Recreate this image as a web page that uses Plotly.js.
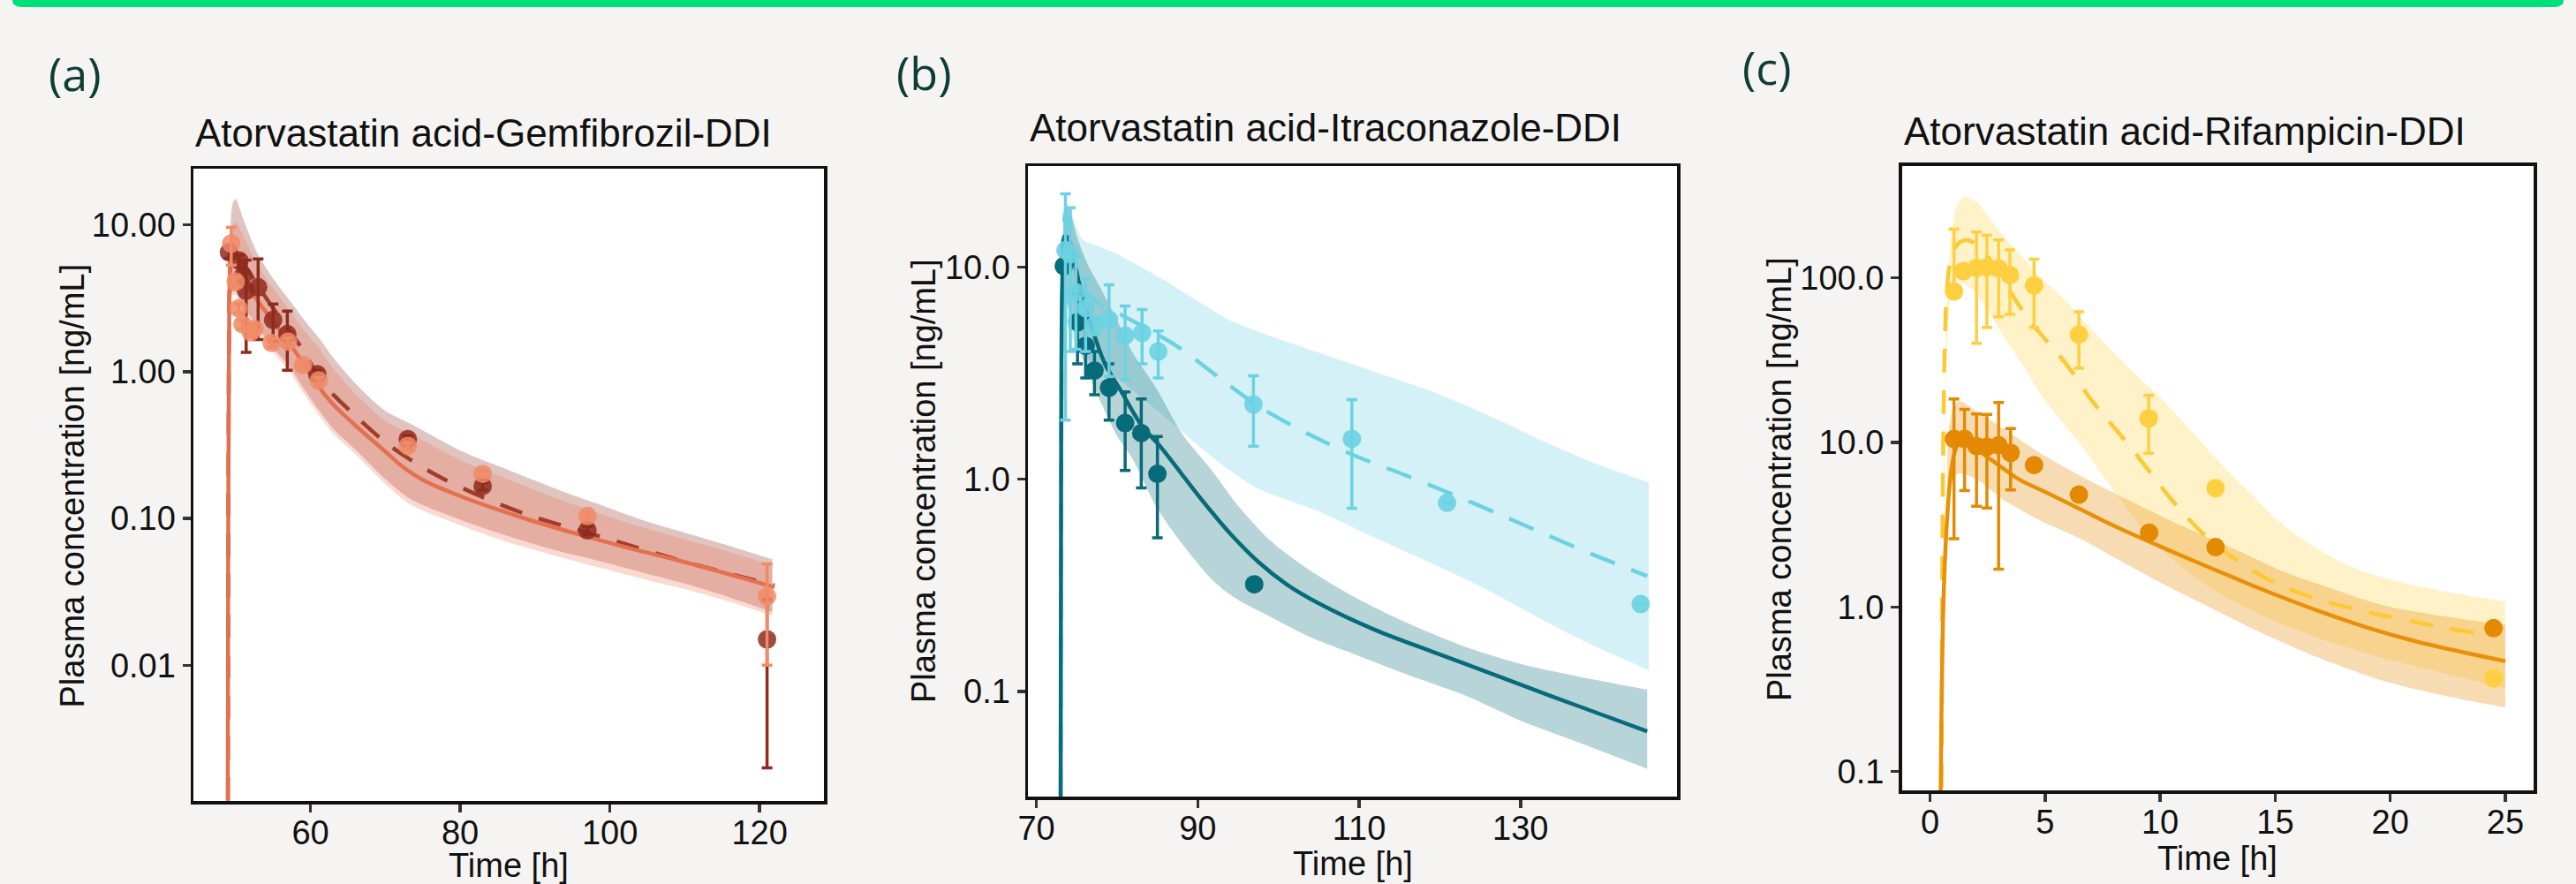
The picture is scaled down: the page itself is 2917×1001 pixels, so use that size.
<!DOCTYPE html>
<html>
<head>
<meta charset="utf-8">
<script src="https://cdn.plot.ly/plotly-3.0.1.min.js"></script>
<style>html,body{margin:0;padding:0;background:#f5f4f2;}#chart{width:2917px;height:1001px;}</style>
</head>
<body>
<div id="chart"></div>
<script>
// ---------------- Panel (a): Atorvastatin acid - Gemfibrozil DDI ----------------
const aLightLineT = [48.95, 49.0, 49.1, 49.2, 49.35, 49.6, 50.0, 50.5, 51.5, 53, 55, 57, 59, 61, 63, 66, 70, 72.3, 75, 80, 85, 90, 97, 103, 109, 115, 122];
const aLightLineC = [0.0012, 0.05, 1.2, 4.0, 6.0, 6.4, 6.0, 5.3, 4.0, 3.0, 2.2, 1.6, 1.15, 0.80, 0.60, 0.43, 0.285, 0.225, 0.183, 0.142, 0.115, 0.095, 0.075, 0.062, 0.052, 0.043, 0.034];
const aDarkLineT = [48.97, 49.02, 49.1, 49.25, 49.5, 50, 51, 52, 53.5, 55, 57, 59, 61.6, 66, 70.7, 76.6, 82.8, 89.2, 95.4, 102, 108.8, 115.3, 122];
const aDarkLineC = [0.0012, 0.05, 1.5, 5.0, 7.0, 6.6, 5.5, 4.6, 3.5, 2.7, 1.95, 1.4, 0.84, 0.50, 0.31, 0.20, 0.141, 0.105, 0.0845, 0.067, 0.0527, 0.0429, 0.035];
const aBandT = [49.15, 49.3, 49.6, 50, 51, 52.7, 55, 57.2, 59, 61.3, 63, 66.3, 70, 73.4, 80, 86.3, 92, 98.1, 105, 110, 116, 121.7];
const aDarkBandUp = [4, 9, 14, 15, 11, 6.7, 4.3, 3.06, 2.3, 1.65, 1.25, 0.8, 0.54, 0.44, 0.29, 0.215, 0.165, 0.127, 0.095, 0.08, 0.065, 0.0527];
const aDarkBandLo = [2.5, 3.2, 3.5, 3.5, 2.8, 2.1, 1.45, 1.08, 0.78, 0.53, 0.41, 0.285, 0.185, 0.135, 0.098, 0.076, 0.062, 0.052, 0.042, 0.036, 0.029, 0.023];
const aLightBandUp = [3.5, 7, 10, 10.5, 8.5, 5.6, 3.7, 2.6, 1.95, 1.4, 1.05, 0.68, 0.46, 0.375, 0.25, 0.185, 0.142, 0.11, 0.085, 0.072, 0.059, 0.048];
const aLightBandLo = [2.3, 3.0, 3.3, 3.3, 2.6, 1.95, 1.35, 1.0, 0.72, 0.49, 0.38, 0.265, 0.172, 0.124, 0.09, 0.069, 0.057, 0.047, 0.038, 0.033, 0.027, 0.0217];
const aDarkObsT = [49.1, 50.5, 51.0, 51.4, 53.0, 55.0, 56.9, 60.9, 73.0, 83.0, 97.0, 121.0];
const aDarkObsC = [6.5, 5.7, 4.5, 3.55, 3.75, 2.25, 1.8, 0.96, 0.347, 0.166, 0.083, 0.015];
const aDarkObsSD = [0.6, 0.5, 0.4, 2.2, 2.1, 0.64, 0.78, 0.06, 0.02, 0.01, 0.005, 0.013];
const aLightObsT = [49.4, 50.0, 50.4, 50.9, 52.0, 52.5, 54.8, 57.0, 59.0, 61.1, 73.0, 83.0, 97.0, 121.0];
const aLightObsC = [7.45, 4.1, 2.7, 2.1, 1.85, 1.95, 1.57, 1.6, 1.11, 0.87, 0.312, 0.201, 0.104, 0.0295];
const aLightObsSD = [2.15, 0.3, 0.2, 0.15, 0.12, 0.15, 0.1, 0.1, 0.05, 0.04, 0.015, 0.01, 0.005, 0.0195];
const aXTicks = [60, 80, 100, 120];
const aYTicks = [0.01, 0.1, 1, 10];
const aYTickText = ['0.01', '0.10', '1.00', '10.00'];

// ---------------- Panel (b): Atorvastatin acid - Itraconazole DDI ----------------
const bDarkLineT = [73.0, 73.05, 73.2, 73.5, 74.0, 74.6, 75.5, 77.0, 78.5, 80.5, 83.0, 85.4, 88.0, 90.5, 94.0, 97.6, 101, 105, 112, 119.5, 127, 134.2, 140, 145.7];
const bDarkLineC = [0.02, 0.5, 8, 14, 13.5, 11, 7.8, 5.0, 3.5, 2.6, 1.8, 1.42, 1.06, 0.80, 0.556, 0.405, 0.32, 0.26, 0.195, 0.152, 0.119, 0.094, 0.078, 0.065];
const bLightLineT = [73.0, 73.1, 73.3, 73.6, 74.0, 74.6, 75.5, 77.3, 80, 83, 87.6, 92.9, 97.6, 103.9, 109.3, 115.6, 121.5, 127.4, 133.2, 139.1, 145.7];
const bLightLineC = [0.02, 2, 12, 18, 15, 11, 8.5, 6.9, 6.1, 5.3, 4.19, 2.96, 2.2, 1.62, 1.3, 1.05, 0.851, 0.683, 0.548, 0.44, 0.35];
const bDarkBandT = [73.3, 73.6, 74.2, 75.0, 76.4, 78.0, 80.0, 81.9, 84.9, 88.0, 92.0, 95.0, 99.0, 104.0, 109.4, 116.0, 123.4, 130.0, 137.0, 145.7];
const bDarkBandUp = [10, 19, 18, 14, 10.2, 7.9, 5.6, 3.96, 2.67, 1.65, 1.07, 0.75, 0.514, 0.37, 0.279, 0.21, 0.161, 0.135, 0.118, 0.102];
const bDarkBandLo = [5, 7, 6, 4.4, 3.2, 2.3, 1.6, 1.25, 0.74, 0.5, 0.33, 0.27, 0.225, 0.18, 0.15, 0.12, 0.095, 0.073, 0.058, 0.0433];
const bLightBandT = [73.3, 73.6, 74.0, 74.8, 75.3, 76.0, 77.0, 80.0, 85.35, 90.0, 94.0, 97.6, 104.9, 112.0, 119.5, 126.0, 133.0, 139.0, 145.9];
const bLightBandUp = [12, 20, 19.5, 16, 14.3, 13.2, 12.8, 11.5, 8.87, 6.9, 5.6, 4.94, 3.96, 3.2, 2.55, 2.0, 1.5, 1.2, 0.966];
const bLightBandLo = [5, 5.5, 5.0, 4.4, 4.1, 3.8, 3.5, 3.0, 2.05, 1.45, 1.1, 0.9, 0.708, 0.53, 0.394, 0.3, 0.215, 0.165, 0.126];
const bDarkObsT = [73.4, 75.1, 76.1, 77.2, 79.0, 81.0, 83.0, 85.0, 97.0];
const bDarkObsC = [10.1, 5.5, 4.25, 3.25, 2.7, 1.84, 1.65, 1.06, 0.32];
const bDarkObsSD = [0.4, 2.0, 1.25, 0.75, 0.8, 0.74, 0.74, 0.53, 0];
const bLightObsT = [73.6, 74.2, 74.9, 76.1, 77.2, 79.0, 81.0, 83.1, 85.1, 96.9, 109.1, 120.9, 144.9];
const bLightObsC = [12.0, 11.5, 7.6, 6.4, 5.3, 5.65, 4.75, 4.9, 4.0, 2.25, 1.55, 0.775, 0.258];
const bLightObsSD = [10.1, 7.5, 3.5, 2.4, 0.5, 2.6, 1.8, 1.4, 1.0, 0.82, 0.82, 0, 0];
const bXTicks = [70, 90, 110, 130];
const bYTicks = [0.1, 1, 10];
const bYTickText = ['0.1', '1.0', '10.0'];

// ---------------- Panel (c): Atorvastatin acid - Rifampicin DDI ----------------
const cOrangeLineT = [0.45, 0.5, 0.55, 0.6, 0.68, 0.76, 0.85, 0.95, 1.1, 1.3, 1.6, 2.0, 2.47, 3.0, 3.84, 5.0, 6.58, 8.0, 9.32, 11.0, 13.43, 15.0, 17.0, 19.0, 21.0, 23.0, 25.0];
const cOrangeLineC = [0.05, 0.25, 0.7, 1.3, 2.4, 3.8, 5.5, 7.2, 9.0, 10.0, 9.9, 9.2, 8.2, 7.25, 6.0, 5.0, 3.9, 3.11, 2.57, 2.03, 1.46, 1.19, 0.933, 0.75, 0.624, 0.537, 0.468];
const cYellowLineT = [0.5, 0.53, 0.56, 0.6, 0.65, 0.72, 0.85, 1.05, 1.3, 1.6, 2.0, 2.5, 3.0, 3.5, 4.2, 4.9, 5.6, 6.2, 6.9, 7.6, 8.3, 9.0, 9.75, 10.4, 11.2, 11.9, 12.9, 14.0, 15.2, 16.8, 19.2, 22.1, 24.4];
const cYellowLineC = [0.08, 1.5, 6, 20, 45, 80, 120, 150, 165, 170, 160, 135, 108, 82, 58, 44, 34, 26.5, 19, 14.3, 11, 8.3, 6.1, 4.66, 3.47, 2.77, 2.12, 1.67, 1.36, 1.12, 0.92, 0.76, 0.67];
const cYellowBandT = [0.5, 0.56, 0.62, 0.7, 0.85, 1.0, 1.2, 1.44, 2.0, 2.6, 3.2, 4.0, 4.9, 5.8, 6.6, 7.6, 8.8, 10.0, 11.0, 12.0, 13.0, 14.0, 15.0, 16.0, 17.0, 18.0, 19.2, 21.0, 23.0, 25.0];
const cYellowBandUp = [0.1, 1.5, 10, 50, 140, 220, 285, 310, 290, 230, 178, 135, 98, 75, 56.6, 40, 27, 18.8, 13.3, 9.3, 6.6, 4.8, 3.47, 2.7, 2.19, 1.84, 1.58, 1.36, 1.2, 1.08];
const cYellowBandLo = [0.08, 0.5, 3, 25, 70, 90, 95, 93, 80, 60, 44, 30, 18.8, 13, 9.5, 6.0, 3.6, 2.3, 1.72, 1.36, 1.12, 0.95, 0.82, 0.72, 0.64, 0.575, 0.51, 0.44, 0.375, 0.32];
const cOrangeBandT = [0.75, 0.85, 1.0, 1.27, 2.0, 3.2, 4.8, 6.58, 8.3, 10.0, 11.7, 13.43, 15.1, 16.86, 19.74, 22.3, 25.0];
const cOrangeBandUp = [8, 13, 16, 17.8, 15.5, 12.1, 8.6, 6.22, 4.7, 3.59, 2.8, 2.18, 1.7, 1.38, 1.02, 0.88, 0.78];
const cOrangeBandLo = [3, 4.5, 6, 6.5, 6.0, 4.48, 3.35, 2.58, 1.9, 1.41, 1.07, 0.809, 0.63, 0.493, 0.354, 0.29, 0.245];
const cOrangeObsT = [1.04, 1.5, 2.02, 2.47, 2.98, 3.5, 4.52, 6.47, 9.52, 12.41, 24.49];
const cOrangeObsC = [10.5, 10.5, 9.5, 9.4, 9.6, 8.65, 7.28, 4.82, 2.83, 2.31, 0.743];
const cOrangeObsSD = [7.9, 5.4, 5.4, 5.4, 7.9, 3.5, 0, 0, 0, 0, 0];
const cYellowObsT = [1.04, 1.45, 2.02, 2.47, 2.98, 3.47, 4.52, 6.47, 9.5, 12.41, 24.49];
const cYellowObsC = [82.8, 110, 115, 116, 114, 104, 90, 45.2, 14.0, 5.27, 0.369];
const cYellowObsSDUp = [115, 8, 75, 66, 56, 44, 40, 17, 5.4, 0, 0];
const cYellowObsSDDown = [0, 8, 75, 66, 56, 44, 40, 17, 5.4, 0, 0];
const cXTicks = [0, 5, 10, 15, 20, 25];
const cYTicks = [0.1, 1, 10, 100];
const cYTickText = ['0.1', '1.0', '10.0', '100.0'];

// ---------------- helpers ----------------
const W = 2917, H = 1001;
const PX = x => x / W;
const PY = y => 1 - y / H;
const FONT = 'Liberation Sans, Arial, Helvetica, sans-serif';

// a band = invisible lower edge followed by an upper edge filled down to it
function band(t, lo, up, color, xa, ya) {
  const edge = {width: 0, color: color, shape: 'spline', smoothing: 0.8};
  return [
    {x: t, y: lo, type: 'scatter', mode: 'lines', line: edge,
     xaxis: xa, yaxis: ya, hoverinfo: 'skip'},
    {x: t, y: up, type: 'scatter', mode: 'lines', line: edge,
     fill: 'tonexty', fillcolor: color, xaxis: xa, yaxis: ya, hoverinfo: 'skip'}
  ];
}
function line(t, c, color, dash, xa, ya) {
  return {
    x: t, y: c, type: 'scatter', mode: 'lines',
    line: {color: color, width: 4.5, dash: dash, shape: 'spline', smoothing: 0.9},
    xaxis: xa, yaxis: ya, hoverinfo: 'skip'
  };
}
function points(t, c, sdUp, sdDown, color, opacity, xa, ya) {
  return {
    x: t, y: c, type: 'scatter', mode: 'markers',
    marker: {color: color, size: 21, opacity: opacity, line: {width: 0}},
    error_y: {type: 'data', symmetric: false, array: sdUp, arrayminus: sdDown,
      color: color, thickness: 3.5, width: 6},
    xaxis: xa, yaxis: ya, hoverinfo: 'skip'
  };
}

const traces = [].concat(
  // (a)
  band(aBandT, aDarkBandLo, aDarkBandUp, 'rgba(139,42,30,0.28)', 'x', 'y'),
  band(aBandT, aLightBandLo, aLightBandUp, 'rgba(240,120,90,0.28)', 'x', 'y'),
  [line(aDarkLineT, aDarkLineC, '#a23d2b', '26px,20px', 'x', 'y'),
   line(aLightLineT, aLightLineC, '#e4704f', 'solid', 'x', 'y'),
   points(aDarkObsT, aDarkObsC, aDarkObsSD, aDarkObsSD, '#8e2b1f', 0.85, 'x', 'y'),
   points(aLightObsT, aLightObsC, aLightObsSD, aLightObsSD, '#f08b69', 0.85, 'x', 'y')],
  // (b)
  band(bLightBandT, bLightBandLo, bLightBandUp, 'rgba(110,210,228,0.30)', 'x2', 'y2'),
  band(bDarkBandT, bDarkBandLo, bDarkBandUp, 'rgba(6,107,122,0.29)', 'x2', 'y2'),
  [line(bLightLineT, bLightLineC, '#6cd2e2', '30px,20px', 'x2', 'y2'),
   line(bDarkLineT, bDarkLineC, '#076b7a', 'solid', 'x2', 'y2'),
   points(bDarkObsT, bDarkObsC, bDarkObsSD, bDarkObsSD, '#076b7a', 1, 'x2', 'y2'),
   points(bLightObsT, bLightObsC, bLightObsSD, bLightObsSD, '#6cd2e2', 0.9, 'x2', 'y2')],
  // (c)
  band(cYellowBandT, cYellowBandLo, cYellowBandUp, 'rgba(255,210,60,0.28)', 'x3', 'y3'),
  band(cOrangeBandT, cOrangeBandLo, cOrangeBandUp, 'rgba(227,139,2,0.30)', 'x3', 'y3'),
  [line(cYellowLineT, cYellowLineC, '#fcc934', '27px,20px', 'x3', 'y3'),
   line(cOrangeLineT, cOrangeLineC, '#e8900a', 'solid', 'x3', 'y3'),
   points(cOrangeObsT, cOrangeObsC, cOrangeObsSD, cOrangeObsSD, '#e38a02', 1, 'x3', 'y3'),
   points(cYellowObsT, cYellowObsC, cYellowObsSDUp, cYellowObsSDDown, '#fed041', 1, 'x3', 'y3')]
);

function xAxis(domain, range, ticks, anchor) {
  return {
    domain: domain, range: range, tickvals: ticks, anchor: anchor,
    showline: true, mirror: true, linecolor: '#111', linewidth: 3.5,
    ticks: 'outside', ticklen: 9, tickwidth: 3.5, tickcolor: '#333',
    ticklabelstandoff: -9,
    showgrid: false, zeroline: false, fixedrange: true,
    tickfont: {family: FONT, size: 38, color: '#111'}
  };
}
function yAxis(domain, range, ticks, text, anchor) {
  return {
    domain: domain, type: 'log', range: range, tickvals: ticks, ticktext: text, anchor: anchor,
    showline: true, mirror: true, linecolor: '#111', linewidth: 3.5,
    ticks: 'outside', ticklen: 9, tickwidth: 3.5, tickcolor: '#333',
    showgrid: false, zeroline: false, fixedrange: true,
    tickfont: {family: FONT, size: 38, color: '#111'}
  };
}

function ann(text, x, y, size, opts) {
  return Object.assign({
    text: text, x: PX(x), y: PY(y), xref: 'paper', yref: 'paper',
    xanchor: 'center', yanchor: 'middle', showarrow: false,
    font: {family: FONT, size: size, color: '#111'}
  }, opts || {});
}
const labelFont = {family: 'Open Sans, Noto Sans, sans-serif', size: 52, color: '#0d3d36'};

const layout = {
  width: W, height: H,
  margin: {l: 0, r: 0, t: 0, b: 0},
  paper_bgcolor: '#f5f4f2', plot_bgcolor: '#ffffff',
  showlegend: false, hovermode: false,
  xaxis: xAxis([PX(219), PX(933)], [44.35, 128.6], aXTicks, 'y'),
  yaxis: yAxis([PY(907), PY(191)], [Math.log10(0.00119), Math.log10(24.1)], aYTicks, aYTickText, 'x'),
  xaxis2: xAxis([PX(1164), PX(1899)], [68.95, 149.4], bXTicks, 'y2'),
  yaxis2: yAxis([PY(902), PY(188)], [Math.log10(0.032), Math.log10(29.9)], bYTicks, bYTickText, 'x2'),
  xaxis3: xAxis([PX(2153.5), PX(2869)], [-1.23, 26.23], cXTicks, 'y3'),
  yaxis3: yAxis([PY(895), PY(187.6)], [Math.log10(0.0768), Math.log10(481)], cYTicks, cYTickText, 'x3'),
  annotations: [
    ann('(a)', 85, 82, 52, {font: labelFont}),
    ann('(b)', 1046, 81, 52, {font: labelFont}),
    ann('(c)', 2001, 76, 52, {font: labelFont}),
    ann('Atorvastatin acid-Gemfibrozil-DDI', 219, 150, 44, {xanchor: 'left'}),
    ann('Atorvastatin acid-Itraconazole-DDI', 1164, 144, 44, {xanchor: 'left'}),
    ann('Atorvastatin acid-Rifampicin-DDI', 2153.5, 148, 44, {xanchor: 'left'}),
    ann('Plasma concentration [ng/mL]', 81.5, 550, 38, {textangle: -90}),
    ann('Plasma concentration [ng/mL]', 1046, 545, 38, {textangle: -90}),
    ann('Plasma concentration [ng/mL]', 2015, 543, 38, {textangle: -90}),
    ann('Time [h]', 576, 980, 38),
    ann('Time [h]', 1531.5, 978, 38),
    ann('Time [h]', 2511, 972, 38)
  ],
  shapes: [{
    type: 'path', xref: 'paper', yref: 'paper',
    path: 'M ' + PX(14) + ',' + PY(-2) + ' L ' + PX(14) + ',' + PY(0) +
          ' Q ' + PX(14) + ',' + PY(8) + ' ' + PX(26) + ',' + PY(8) +
          ' L ' + PX(2891) + ',' + PY(8) +
          ' Q ' + PX(2903) + ',' + PY(8) + ' ' + PX(2903) + ',' + PY(0) +
          ' L ' + PX(2903) + ',' + PY(-2) + ' Z',
    fillcolor: '#00e07a', line: {width: 0}
  }]
};

Plotly.newPlot('chart', traces, layout, {staticPlot: true, displayModeBar: false});
</script>
</body>
</html>
